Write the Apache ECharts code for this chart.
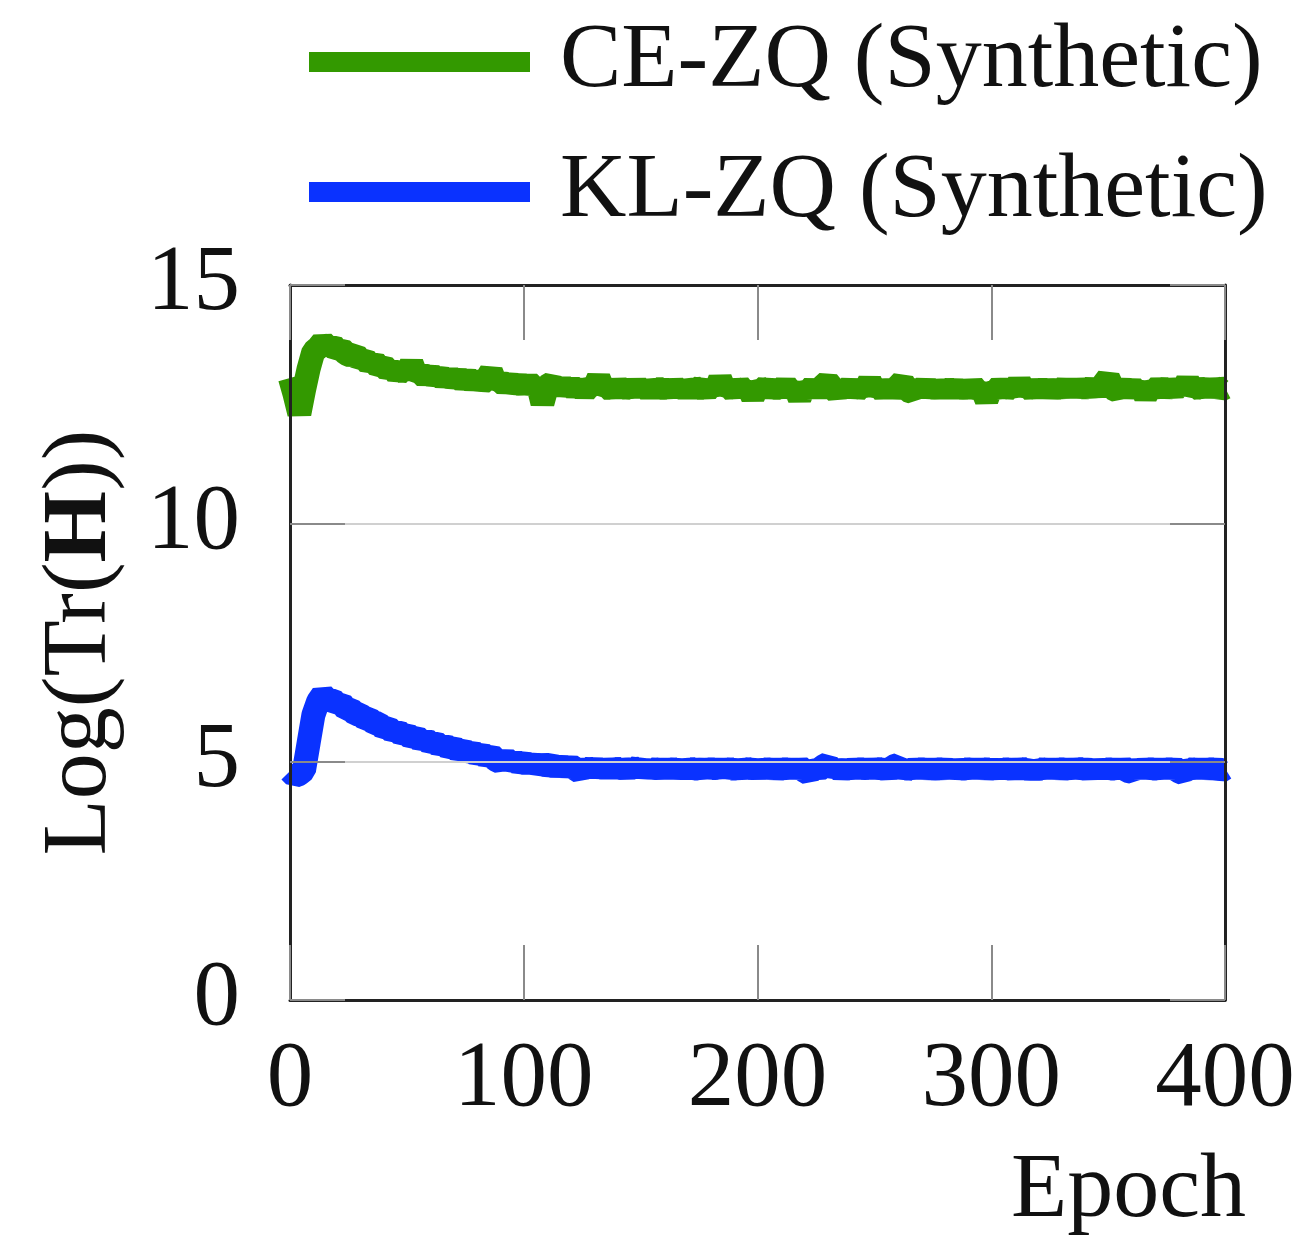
<!DOCTYPE html>
<html>
<head>
<meta charset="utf-8">
<script src="https://cdn.jsdelivr.net/npm/echarts@6/dist/echarts.min.js"></script>
<style>
  html, body { margin: 0; padding: 0; background: #ffffff; }
  #chart { width: 1312px; height: 1239px; }
</style>
</head>
<body>
<div id="chart"></div>
<script>
// Log of the Hessian trace per epoch, sampled every EPOCH_STEP epochs (0..400).
const EPOCH_STEP = 2;
const seriesNames = ['CE-ZQ (Synthetic)', 'KL-ZQ (Synthetic)'];

const ceZq = [
  13.05, 12.7, 12.3, 12.8, 13.25, 13.6, 13.68, 13.8, 13.7, 13.76,
  13.62, 13.66, 13.56, 13.52, 13.55, 13.42, 13.46, 13.33, 13.4, 13.27,
  13.31, 13.2, 13.26, 13.12, 13.22, 13.12, 13.36, 13.1, 13.16, 13.06,
  13.15, 13.04, 13.12, 13.0, 13.1, 12.99, 13.07, 12.98, 13.05, 12.96,
  13.04, 12.94, 13.02, 13.18, 12.93, 12.99, 12.9, 12.98, 12.88, 12.95,
  12.87, 12.96, 12.86, 12.93, 12.52, 12.88, 12.94, 12.81, 12.93, 12.8,
  12.9, 12.79, 12.89, 12.76, 12.88, 12.83, 13.05, 12.8, 12.87, 12.77,
  12.89, 12.78, 12.87, 12.76, 12.91, 12.77, 12.88, 12.75, 12.89, 12.79,
  12.87, 12.76, 12.9, 12.77, 12.88, 12.75, 12.89, 12.8, 12.87, 12.76,
  12.89, 12.77, 13.03, 12.79, 12.87, 12.76, 12.9, 12.78, 12.87, 12.65,
  12.88, 12.79, 12.89, 12.76, 12.87, 12.78, 12.9, 12.77, 12.86, 12.63,
  12.87, 12.77, 12.89, 12.76, 12.88, 12.97, 12.85, 12.75, 12.89, 12.77,
  12.9, 12.76, 12.87, 12.78, 12.99, 12.77, 12.87, 12.76, 12.88, 12.78,
  12.87, 12.97, 12.79, 12.76, 12.89, 12.77, 12.9, 12.76, 12.87, 12.75,
  12.89, 12.77, 12.88, 12.76, 12.87, 12.75, 12.89, 12.77, 12.83, 12.59,
  12.85, 12.77, 12.89, 12.78, 12.87, 12.76, 12.97, 12.77, 12.87, 12.76,
  12.89, 12.77, 12.88, 12.76, 12.87, 12.78, 12.89, 12.77, 12.9, 12.78,
  12.88, 12.79, 12.9, 12.78, 12.92, 13.05, 12.83, 12.78, 12.89, 12.77,
  12.88, 12.76, 12.87, 12.67, 12.86, 12.78, 12.89, 12.79, 12.88, 12.77,
  12.91, 12.79, 12.99, 12.78, 12.87, 12.79, 12.9, 12.77, 12.89, 12.8,
  12.85
];

const klZq = [
  4.8, 4.7, 4.74, 4.82, 5.4, 5.98, 6.26, 6.4, 6.3, 6.32,
  6.2, 6.23, 6.1, 6.1, 6.0, 5.99, 5.9, 5.9, 5.81, 5.8,
  5.7, 5.72, 5.62, 5.66, 5.55, 5.59, 5.49, 5.53, 5.43, 5.48,
  5.38, 5.42, 5.32, 5.37, 5.27, 5.31, 5.22, 5.27, 5.17, 5.22,
  5.13, 5.18, 5.09, 5.14, 5.04, 4.99, 5.08, 4.98, 5.03, 4.95,
  5.0, 4.92, 5.0, 4.9, 4.96, 4.91, 4.94, 4.87, 4.93, 4.86,
  4.92, 4.85, 4.79, 4.91, 4.82, 4.92, 4.81, 4.9, 4.8, 4.91,
  4.82, 4.89, 4.8, 4.9, 4.83, 4.94, 4.76, 4.9, 4.81, 4.89,
  4.8, 4.9, 4.81, 4.89, 4.79, 4.9, 4.82, 4.88, 4.8, 4.91,
  4.81, 4.89, 4.8, 4.92, 4.81, 4.88, 4.79, 4.9, 4.82, 4.89,
  4.79, 4.9, 4.81, 4.89, 4.8, 4.88, 4.81, 4.9, 4.8, 4.89,
  4.81, 4.75, 4.88, 4.82, 4.9, 4.95, 4.81, 4.89, 4.79, 4.88,
  4.8, 4.9, 4.81, 4.89, 4.8, 4.9, 4.82, 4.88, 4.79, 4.9,
  4.93, 4.76, 4.88, 4.8, 4.9, 4.81, 4.89, 4.8, 4.88, 4.81,
  4.89, 4.8, 4.9, 4.79, 4.88, 4.81, 4.9, 4.8, 4.89, 4.81,
  4.88, 4.79, 4.9, 4.81, 4.88, 4.8, 4.89, 4.82, 4.88, 4.76,
  4.88, 4.81, 4.9, 4.8, 4.89, 4.81, 4.88, 4.8, 4.9, 4.82,
  4.88, 4.8, 4.89, 4.79, 4.9, 4.81, 4.88, 4.8, 4.9, 4.81,
  4.79, 4.89, 4.8, 4.9, 4.81, 4.88, 4.8, 4.9, 4.81, 4.89,
  4.8, 4.76, 4.88, 4.81, 4.9, 4.8, 4.89, 4.81, 4.88, 4.8,
  4.86
];

const xTicks = [0, 100, 200, 300, 400];
const yTicks = [0, 5, 10, 15];

const SERIF = '"Liberation Serif", "DejaVu Serif", serif';
const FONT_SIZE = 92;
const TICK_FONT_SIZE = 93;
const colors = ['#339900', '#0a32ff'];

const toPoints = vals => vals.map((v, i) => [i * EPOCH_STEP, v]);

const tickStyle = { show: true, inside: true, length: 55, lineStyle: { color: '#8a8a8a', width: 2 } };
const borderLine = { show: true, onZero: false, lineStyle: { color: '#222', width: 3 } };

const chart = echarts.init(document.getElementById('chart'), null, { renderer: 'canvas' });

chart.setOption({
  backgroundColor: '#ffffff',
  animation: false,
  textStyle: { fontFamily: SERIF },
  grid: { left: 290, top: 285, width: 935, height: 715, containLabel: false },
  legend: {
    orient: 'vertical',
    left: 304,
    top: 6,
    itemWidth: 221,
    itemHeight: 20,
    itemGap: 28,
    icon: 'rect',
    data: seriesNames,
    textStyle: {
      fontFamily: SERIF,
      fontSize: FONT_SIZE,
      color: '#111',
      lineHeight: 102,
      padding: [0, 0, 0, 25]
    }
  },
  xAxis: [
    {
      type: 'value', position: 'bottom', min: xTicks[0], max: xTicks[xTicks.length - 1], interval: 100,
      z: 5,
      axisLine: borderLine,
      axisTick: tickStyle,
      splitLine: { show: false },
      axisLabel: { margin: 34, fontFamily: SERIF, fontSize: TICK_FONT_SIZE, color: '#111' }
    },
    {
      type: 'value', position: 'top', min: xTicks[0], max: xTicks[xTicks.length - 1], interval: 100,
      z: 5,
      axisLine: borderLine,
      axisTick: tickStyle,
      splitLine: { show: false },
      axisLabel: { show: false }
    }
  ],
  yAxis: [
    {
      type: 'value', position: 'left', min: yTicks[0], max: yTicks[yTicks.length - 1], interval: 5,
      z: 5,
      axisLine: borderLine,
      axisTick: tickStyle,
      splitLine: { show: true, lineStyle: { color: '#d0d0d0', width: 2 } },
      axisLabel: { margin: 50, fontFamily: SERIF, fontSize: TICK_FONT_SIZE, color: '#111' },
      name: '{n|Log(Tr(}{b|H}{n|))}',
      nameLocation: 'middle',
      nameGap: 163,
      nameTextStyle: {
        rich: {
          n: { fontFamily: SERIF, fontSize: FONT_SIZE, color: '#111' },
          b: { fontFamily: SERIF, fontSize: FONT_SIZE, fontWeight: 'bold', color: '#111' }
        }
      }
    },
    {
      type: 'value', position: 'right', min: yTicks[0], max: yTicks[yTicks.length - 1], interval: 5,
      z: 5,
      axisLine: borderLine,
      axisTick: tickStyle,
      splitLine: { show: false },
      axisLabel: { show: false }
    }
  ],
  graphic: [
    {
      type: 'text',
      right: 66,
      top: 1146,
      style: { text: 'Epoch', font: FONT_SIZE + 'px ' + SERIF, fill: '#111' }
    }
  ],
  series: [
    {
      name: seriesNames[0], type: 'line', data: toPoints(ceZq),
      showSymbol: false, clip: true,
      color: colors[0],
      lineStyle: { color: colors[0], width: 24, join: 'bevel' }
    },
    {
      name: seriesNames[1], type: 'line', data: toPoints(klZq),
      showSymbol: false, clip: true,
      color: colors[1],
      lineStyle: { color: colors[1], width: 24, join: 'bevel' }
    }
  ]
});
</script>
</body>
</html>
